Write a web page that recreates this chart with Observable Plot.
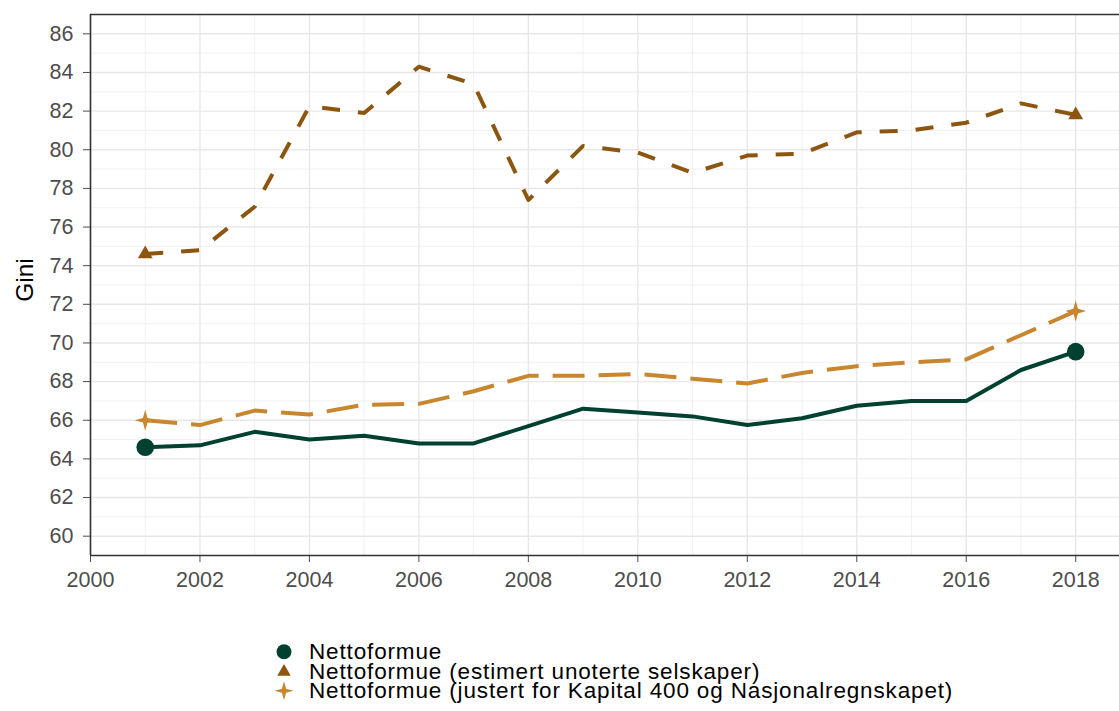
<!DOCTYPE html>
<html>
<head>
<meta charset="utf-8">
<script src="https://cdn.jsdelivr.net/npm/d3@7"></script>
<script src="https://cdn.jsdelivr.net/npm/@observablehq/plot@0.6"></script>
<style>
  body { margin: 0; background: #fff; font-family: "Liberation Sans", Arial, sans-serif; }
  #wrap { position: relative; width: 1119px; height: 711px; }
  #legend { position: absolute; left: 272px; top: 642px; font-size: 22.5px; letter-spacing: 0.85px; color: #000; }
  .item { height: 19.5px; display: flex; align-items: center; white-space: nowrap; }
  .item svg { flex: none; width: 24px; height: 19.5px; margin-right: 13px; overflow: visible; }
  .item .lab { display: block; height: 19.5px; line-height: 19.5px; overflow: visible; }
  #ylab { position: absolute; left: 25px; top: 280px; transform: translate(-50%, -50%) rotate(-90deg); font-size: 24.5px; line-height: 24px; color: #000; white-space: nowrap; }
</style>
</head>
<body>
<div id="wrap">
  <div id="chart"></div>
  <div id="ylab"></div>
  <div id="legend"></div>
</div>
<script>
const years = [2001, 2002, 2003, 2004, 2005, 2006, 2007, 2008, 2009, 2010, 2011, 2012, 2013, 2014, 2015, 2016, 2017, 2018];
const nettoformue = [64.6, 64.7, 65.4, 65.0, 65.2, 64.8, 64.8, 65.7, 66.6, 66.4, 66.2, 65.75, 66.1, 66.75, 67.0, 67.0, 68.6, 69.55];
const estimert = [74.6, 74.8, 77.05, 82.25, 81.9, 84.3, 83.4, 77.4, 80.2, 79.85, 78.8, 79.7, 79.8, 80.9, 81.0, 81.4, 82.4, 81.8];
const justert = [66.0, 65.75, 66.5, 66.3, 66.8, 66.85, 67.5, 68.3, 68.3, 68.4, 68.15, 67.9, 68.45, 68.8, 69.0, 69.15, 70.4, 71.65];
const seriesNames = [
  "Nettoformue",
  "Nettoformue (estimert unoterte selskaper)",
  "Nettoformue (justert for Kapital 400 og Nasjonalregnskapet)"
];
const seriesColors = ["#00402f", "#8c5510", "#c8862f"];
const yTicks = [60, 62, 64, 66, 68, 70, 72, 74, 76, 78, 80, 82, 84, 86];
const yMinor = [59, 61, 63, 65, 67, 69, 71, 73, 75, 77, 79, 81, 83, 85, 87];
const xTicks = [2000, 2002, 2004, 2006, 2008, 2010, 2012, 2014, 2016, 2018];
const xMinor = [2001, 2003, 2005, 2007, 2009, 2011, 2013, 2015, 2017];
const yLabel = "Gini";

const allValues = [nettoformue, estimert, justert];
const rows = [];
allValues.forEach((vals, i) => years.forEach((yr, j) => rows.push({year: yr, value: vals[j], series: seriesNames[i]})));
const endRows = rows.filter(d => d.year === years[0] || d.year === years[years.length - 1]);

// four-pointed star symbol
const star4 = {
  draw(context, size) {
    const r = Math.sqrt(size / Math.PI);
    const w = r * 0.22;
    context.moveTo(0, -r);
    context.lineTo(w, -w);
    context.lineTo(r, 0);
    context.lineTo(w, w);
    context.lineTo(0, r);
    context.lineTo(-w, w);
    context.lineTo(-r, 0);
    context.lineTo(-w, -w);
    context.closePath();
  }
};
const symbols = [d3.symbolCircle, d3.symbolTriangle, star4];
const dotR = [8.8, 5.5, 10.5];
const legendR = [7.5, 5, 9.5];
const dashes = [null, "18,18", "32,14"];

const lineMarks = seriesNames.map((name, i) =>
  Plot.line(rows.filter(d => d.series === name), {
    x: "year", y: "value", stroke: seriesColors[i], strokeWidth: 4,
    strokeDasharray: dashes[i], strokeLinejoin: "round", strokeLinecap: "butt"
  })
);
const dotMarks = seriesNames.map((name, i) =>
  Plot.dot(endRows.filter(d => d.series === name), {
    x: "year", y: "value", fill: seriesColors[i], stroke: "none",
    symbol: symbols[i], r: dotR[i]
  })
);

const chart = Plot.plot({
  width: 1119,
  height: 600,
  marginLeft: 90,
  marginRight: 0,
  marginTop: 14,
  marginBottom: 45,
  style: { fontFamily: "Liberation Sans, Arial, sans-serif", fontSize: "22px", background: "#fff" },
  x: { domain: [2000, 2018.8] },
  y: { domain: [59, 87] },
  marks: [
    Plot.ruleY(yMinor, { stroke: "#ebebeb", strokeWidth: 0.7 }),
    Plot.ruleX(xMinor, { stroke: "#ebebeb", strokeWidth: 0.7 }),
    Plot.ruleY(yTicks, { stroke: "#e8e8e8", strokeWidth: 1.4 }),
    Plot.ruleX(xTicks, { stroke: "#e8e8e8", strokeWidth: 1.4 }),
    Plot.axisX({ ticks: xTicks, tickFormat: d => String(d), tickSize: 7, tickPadding: 9, color: "#4d4d4d", label: null, fontSize: 21.5 }),
    Plot.axisY({ ticks: yTicks, tickSize: 7, tickPadding: 10, color: "#4d4d4d", label: null, fontSize: 21.5 }),
    Plot.ruleY([59], { stroke: "#333", strokeWidth: 1.6 }),
    Plot.ruleY([87], { stroke: "#333", strokeWidth: 1.6 }),
    Plot.ruleX([2000], { stroke: "#333", strokeWidth: 1.6 }),
    ...lineMarks,
    ...dotMarks
  ]
});
document.getElementById("chart").appendChild(chart);
document.getElementById("ylab").textContent = yLabel;

// legend
const legend = d3.select("#legend");
seriesNames.forEach((name, i) => {
  const item = legend.append("div").attr("class", "item");
  const svg = item.append("svg");
  svg.append("path")
    .attr("transform", "translate(12,9.75)")
    .attr("fill", seriesColors[i])
    .attr("d", d3.symbol(symbols[i], legendR[i] * legendR[i] * Math.PI)());
  item.append("div").attr("class", "lab").text(name);
});
</script>
</body>
</html>
